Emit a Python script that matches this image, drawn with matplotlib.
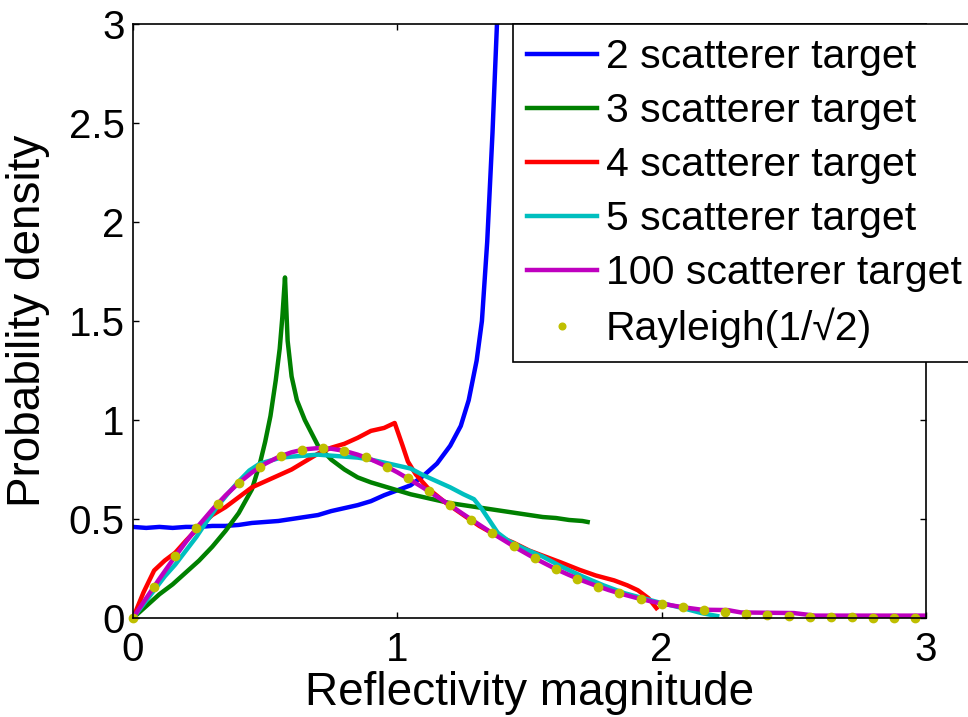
import numpy as np
from matplotlib import pyplot as plt

plt.rcParams['font.family'] = ['Liberation Sans', 'DejaVu Sans']

# 2 scatterer target
x2 = [0, 0.05, 0.1, 0.15, 0.2, 0.25, 0.3, 0.35, 0.4, 0.45, 0.5, 0.55, 0.6, 0.65,
      0.7, 0.75, 0.8, 0.85, 0.9, 0.95, 1.0, 1.05, 1.1, 1.15, 1.2, 1.24, 1.27, 1.3,
      1.32, 1.34, 1.36, 1.38, 1.40]
y2 = [0.46, 0.455, 0.46, 0.455, 0.46, 0.46, 0.465, 0.465, 0.47, 0.48, 0.485, 0.49,
      0.5, 0.51, 0.52, 0.54, 0.555, 0.57, 0.59, 0.62, 0.645, 0.67, 0.72, 0.78, 0.87,
      0.97, 1.1, 1.3, 1.5, 1.9, 2.45, 3.1, 4.0]

# 3 scatterer target
x3 = [0, 0.05, 0.1, 0.15, 0.2, 0.25, 0.3, 0.35, 0.4, 0.45, 0.48, 0.5, 0.52, 0.54,
      0.555, 0.565, 0.575, 0.585, 0.6, 0.62, 0.65, 0.7, 0.75, 0.8, 0.85, 0.9, 0.95,
      1.0, 1.05, 1.1, 1.15, 1.2, 1.25, 1.3, 1.35, 1.4, 1.45, 1.5, 1.55, 1.6, 1.65,
      1.7, 1.72]
y3 = [0, 0.06, 0.12, 0.17, 0.23, 0.29, 0.36, 0.44, 0.53, 0.65, 0.78, 0.89, 1.02,
      1.2, 1.36, 1.52, 1.72, 1.40, 1.22, 1.10, 1.0, 0.87, 0.8, 0.75, 0.71, 0.685,
      0.665, 0.645, 0.625, 0.61, 0.595, 0.58, 0.57, 0.56, 0.55, 0.54, 0.53, 0.52,
      0.51, 0.505, 0.495, 0.49, 0.485]

# 4 scatterer target
x4 = [0, 0.04, 0.08, 0.12, 0.16, 0.2, 0.25, 0.3, 0.35, 0.4, 0.45, 0.5, 0.55, 0.6,
      0.65, 0.7, 0.75, 0.8, 0.85, 0.9, 0.95, 0.99, 1.02, 1.04, 1.07, 1.12, 1.18,
      1.25, 1.31, 1.37, 1.44, 1.5, 1.56, 1.62, 1.69, 1.75, 1.82, 1.87, 1.91, 1.95,
      1.98]
y4 = [0, 0.13, 0.24, 0.29, 0.33, 0.39, 0.46, 0.52, 0.56, 0.61, 0.66, 0.69, 0.72,
      0.75, 0.79, 0.83, 0.86, 0.88, 0.91, 0.945, 0.96, 0.985, 0.87, 0.79, 0.725,
      0.65, 0.585, 0.52, 0.465, 0.42, 0.38, 0.34, 0.31, 0.28, 0.243, 0.215, 0.19,
      0.165, 0.14, 0.10, 0.05]

# 5 scatterer target
x5 = [0, 0.04, 0.08, 0.12, 0.16, 0.2, 0.24, 0.28, 0.32, 0.36, 0.4, 0.44, 0.48,
      0.52, 0.56, 0.6, 0.65, 0.7, 0.75, 0.8, 0.85, 0.9, 0.95, 1.0, 1.05, 1.1, 1.15,
      1.2, 1.25, 1.29, 1.32, 1.35, 1.38, 1.42, 1.48, 1.55, 1.62, 1.7, 1.78, 1.86,
      1.93, 2.0, 2.08, 2.15, 2.21]
y5 = [0, 0.07, 0.14, 0.21, 0.27, 0.34, 0.41, 0.49, 0.565, 0.63, 0.69, 0.745, 0.78,
      0.795, 0.81, 0.815, 0.82, 0.825, 0.82, 0.815, 0.81, 0.8, 0.785, 0.77, 0.755,
      0.72, 0.69, 0.66, 0.625, 0.6, 0.55, 0.49, 0.43, 0.39, 0.35, 0.31, 0.26, 0.21,
      0.165, 0.125, 0.1, 0.075, 0.05, 0.025, 0.01]

# 100 scatterer target
x100 = [0, 0.05, 0.1, 0.15, 0.2, 0.25, 0.3, 0.35, 0.4, 0.45, 0.5, 0.55, 0.6, 0.65,
        0.7, 0.75, 0.8, 0.85, 0.9, 0.95, 1.0, 1.05, 1.1, 1.15, 1.2, 1.25, 1.3, 1.35,
        1.4, 1.45, 1.5, 1.55, 1.6, 1.65, 1.7, 1.75, 1.8, 1.85, 1.9, 1.95, 2.0, 2.05,
        2.1, 2.15, 2.25, 2.3, 2.5, 2.58, 3.0]
y100 = [0, 0.1, 0.198, 0.293, 0.384, 0.47, 0.548, 0.619, 0.682, 0.735, 0.779,
        0.813, 0.837, 0.852, 0.858, 0.855, 0.844, 0.825, 0.801, 0.771, 0.736, 0.697,
        0.656, 0.613, 0.569, 0.524, 0.48, 0.436, 0.395, 0.354, 0.316, 0.281, 0.247,
        0.217, 0.189, 0.164, 0.141, 0.121, 0.103, 0.087, 0.073, 0.061, 0.051, 0.042,
        0.04, 0.028, 0.025, 0.012, 0.012]

# Rayleigh(1/sqrt(2)) reference points
xr = [0, 0.08, 0.16, 0.24, 0.32, 0.4, 0.48, 0.56, 0.64, 0.72, 0.8, 0.88, 0.96,
      1.04, 1.12, 1.2, 1.28, 1.36, 1.44, 1.52, 1.6, 1.68, 1.76, 1.84, 1.92, 2.0,
      2.08, 2.16, 2.24, 2.32, 2.4, 2.48, 2.56, 2.64, 2.72, 2.8, 2.88, 2.96]
yr = [0, 0.159, 0.312, 0.453, 0.578, 0.682, 0.762, 0.818, 0.85, 0.858, 0.844,
      0.811, 0.764, 0.705, 0.639, 0.569, 0.497, 0.428, 0.362, 0.301, 0.247, 0.199,
      0.159, 0.124, 0.096, 0.073, 0.055, 0.041, 0.03, 0.021, 0.015, 0.011, 0.007,
      0.005, 0.003, 0.002, 0.001, 0.001]

fig = plt.figure(figsize=(9.68, 7.17), dpi=100)
ax = fig.add_axes([133 / 968, 99 / 717, 793 / 968, 594 / 717])

lw = 3.2
ax.plot(x2, y2, color=(0, 0, 1), lw=lw, label='2 scatterer target')
ax.plot(x3, y3, color=(0, 0.5, 0), lw=lw, label='3 scatterer target')
ax.plot(x4, y4, color=(1, 0, 0), lw=lw, label='4 scatterer target')
ax.plot(x5, y5, color=(0, 0.75, 0.75), lw=lw, label='5 scatterer target')
ax.plot(x100, y100, color=(0.75, 0, 0.75), lw=lw, label='100 scatterer target')
ax.plot(xr, yr, ls='none', marker='o', ms=6, color=(0.75, 0.75, 0),
        label='Rayleigh(1/\u221a2)', clip_on=False)

ax.set_xlim(0, 3)
ax.set_ylim(0, 3)
ax.set_xticks([0, 1, 2, 3])
ax.set_yticks([0, 0.5, 1, 1.5, 2, 2.5, 3])
ax.set_yticklabels(['0', '0.5', '1', '1.5', '2', '2.5', '3'])
ax.tick_params(direction='in', length=4.5, width=1, top=True, right=True,
               labelsize=29)
ax.tick_params(axis='x', pad=9.5)
ax.tick_params(axis='y', pad=6)
for s in ax.spines.values():
    s.set_linewidth(1.2)

ax.set_xlabel('Reflectivity magnitude', fontsize=33)
ax.set_ylabel('Probability density', fontsize=33)
ax.xaxis.set_label_coords(0.5, -0.089)
ax.yaxis.set_label_coords(-0.105, 0.5)

leg = ax.legend(loc='upper left', bbox_to_anchor=(513 / 968, 1 - 24 / 717),
                bbox_transform=fig.transFigure, borderaxespad=0, fontsize=29.5,
                frameon=True, fancybox=False, handlelength=1.72,
                handletextpad=0.2, labelspacing=0.39, borderpad=0.34,
                markerscale=0.8)
leg.get_frame().set_edgecolor('black')
leg.get_frame().set_linewidth(1.2)
leg.get_frame().set_alpha(1)

fig.savefig('out.png', dpi=100)
